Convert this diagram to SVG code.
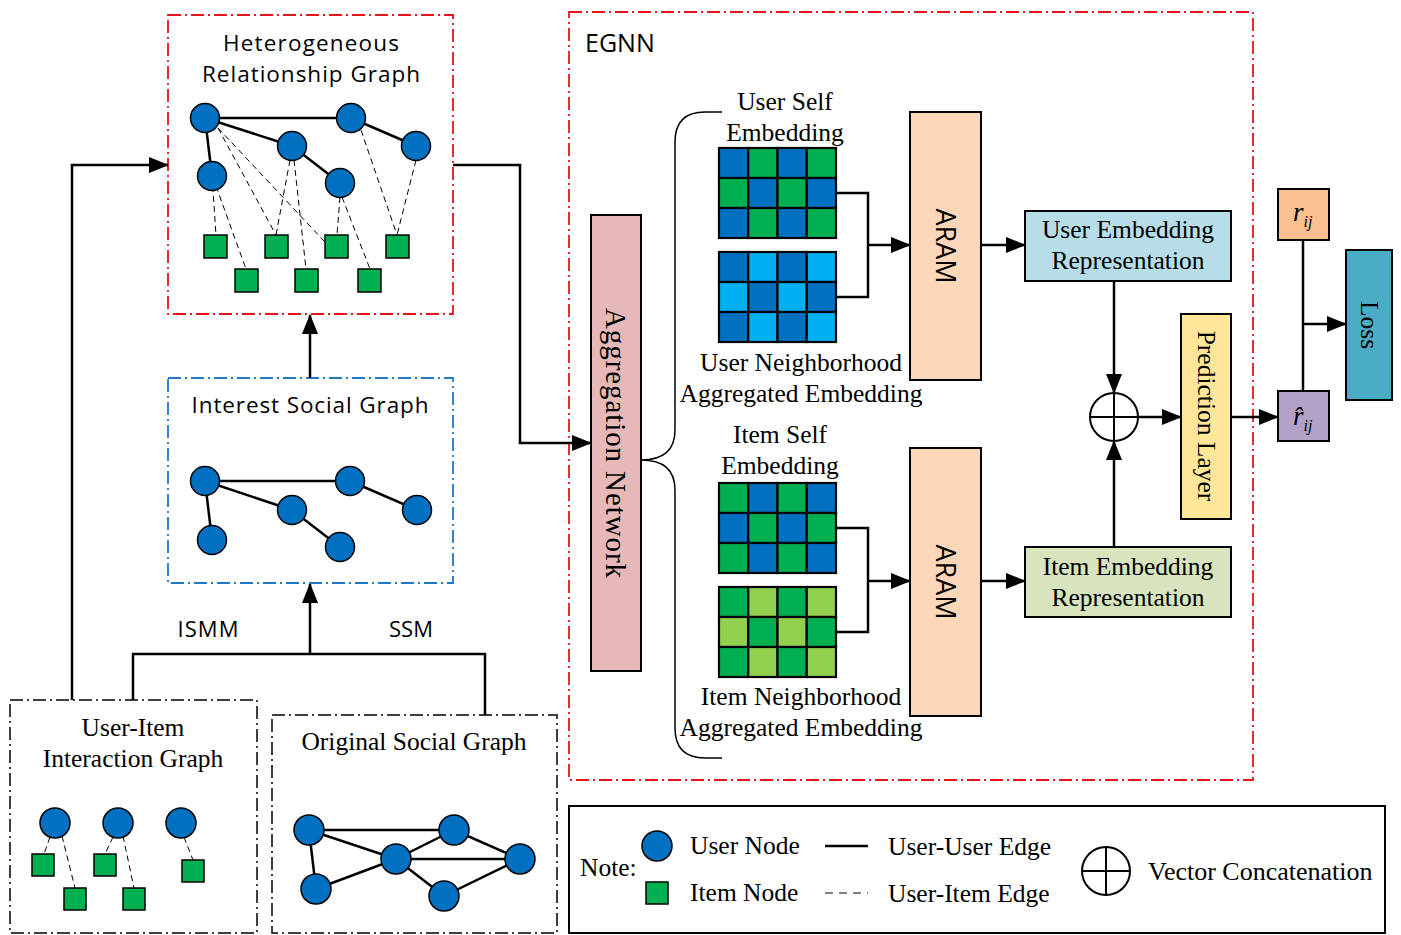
<svg xmlns="http://www.w3.org/2000/svg" width="1401" height="935" viewBox="0 0 1401 935">
<style>
.serif{font-family:"Liberation Serif","Times New Roman",serif;fill:#000}
.sans{font-family:"Open Sans","Liberation Sans",sans-serif;fill:#000}
.un{fill:#0070c0;stroke:#000;stroke-width:1.5}
.in{fill:#00b050;stroke:#000;stroke-width:1.5}
.ue{stroke:#000;stroke-width:2.5;fill:none}
.ie{stroke:#000;stroke-width:1;stroke-dasharray:6 4;fill:none}
.conn{stroke:#000;stroke-width:2.5;fill:none}
.red{fill:none;stroke:#e8141b;stroke-width:1.8;stroke-dasharray:13 4 2 4}
.blue{fill:none;stroke:#1f78c8;stroke-width:1.8;stroke-dasharray:13 4 2 4}
.blk{fill:none;stroke:#000;stroke-width:1.5;stroke-dasharray:13 4 2 4}
.box{stroke:#000;stroke-width:2}
.cell{stroke:#000;stroke-width:2.2}
</style>
<defs>
<marker id="ah" markerUnits="userSpaceOnUse" markerWidth="20" markerHeight="16" refX="19" refY="8" orient="auto">
<path d="M0,0 L20,8 L0,16 Z" fill="#000"/>
</marker>
</defs>

<!-- Heterogeneous Relationship Graph -->
<g id="het-graph">
<rect class="red" x="168" y="15" width="285" height="299"/>
<text class="sans" x="311" y="51" font-size="22.5" text-anchor="middle" textLength="176">Heterogeneous</text>
<text class="sans" x="311" y="82" font-size="22.5" text-anchor="middle" textLength="218">Relationship Graph</text>
<g class="ie">
<line x1="212" y1="176" x2="216" y2="235"/>
<line x1="216" y1="186" x2="246" y2="269"/>
<line x1="218" y1="128" x2="276" y2="235"/>
<line x1="218" y1="128" x2="325" y2="242"/>
<line x1="290" y1="160" x2="276" y2="235"/>
<line x1="294" y1="160" x2="306" y2="269"/>
<line x1="340" y1="197" x2="337" y2="235"/>
<line x1="342" y1="197" x2="370" y2="269"/>
<line x1="361" y1="130" x2="397" y2="235"/>
<line x1="416" y1="160" x2="397" y2="235"/>
</g>
<g class="ue">
<line x1="205" y1="118" x2="351" y2="118"/>
<line x1="205" y1="118" x2="292" y2="146"/>
<line x1="205" y1="118" x2="212" y2="176"/>
<line x1="292" y1="146" x2="340" y2="183"/>
<line x1="351" y1="118" x2="416" y2="146"/>
</g>
<circle class="un" cx="205" cy="118" r="14.5"/>
<circle class="un" cx="351" cy="118" r="14.5"/>
<circle class="un" cx="292" cy="146" r="14.5"/>
<circle class="un" cx="416" cy="146" r="14.5"/>
<circle class="un" cx="212" cy="176" r="14.5"/>
<circle class="un" cx="340" cy="183" r="14.5"/>
<rect class="in" x="204" y="235" width="23" height="23"/>
<rect class="in" x="265" y="235" width="23" height="23"/>
<rect class="in" x="325" y="235" width="23" height="23"/>
<rect class="in" x="386" y="235" width="23" height="23"/>
<rect class="in" x="235" y="269" width="23" height="23"/>
<rect class="in" x="295" y="269" width="23" height="23"/>
<rect class="in" x="358" y="269" width="23" height="23"/>
</g>

<!-- Interest Social Graph -->
<g id="interest-graph">
<rect class="blue" x="168" y="378" width="285" height="205"/>
<text class="sans" x="310" y="413" font-size="22.5" text-anchor="middle" textLength="237">Interest Social Graph</text>
<g class="ue">
<line x1="205" y1="481" x2="350" y2="481"/>
<line x1="205" y1="481" x2="292" y2="510"/>
<line x1="205" y1="481" x2="212" y2="540"/>
<line x1="292" y1="510" x2="340" y2="547"/>
<line x1="350" y1="481" x2="417" y2="510"/>
</g>
<circle class="un" cx="205" cy="481" r="14.5"/>
<circle class="un" cx="350" cy="481" r="14.5"/>
<circle class="un" cx="292" cy="510" r="14.5"/>
<circle class="un" cx="417" cy="510" r="14.5"/>
<circle class="un" cx="212" cy="540" r="14.5"/>
<circle class="un" cx="340" cy="547" r="14.5"/>
</g>

<!-- User-Item Interaction Graph -->
<g id="ui-graph">
<rect class="blk" x="10" y="700" width="247" height="233"/>
<text class="serif" x="133" y="736" font-size="25.5" text-anchor="middle">User-Item</text>
<text class="serif" x="133" y="767" font-size="25.5" text-anchor="middle">Interaction Graph</text>
<g class="ie">
<line x1="50" y1="837" x2="44" y2="854"/>
<line x1="62" y1="836" x2="75" y2="888"/>
<line x1="113" y1="837" x2="105" y2="854"/>
<line x1="123" y1="836" x2="134" y2="888"/>
<line x1="184" y1="837" x2="193" y2="860"/>
</g>
<circle class="un" cx="55" cy="823" r="15"/>
<circle class="un" cx="118" cy="823" r="15"/>
<circle class="un" cx="181" cy="823" r="15"/>
<rect class="in" x="32" y="854" width="22" height="22"/>
<rect class="in" x="94" y="854" width="22" height="22"/>
<rect class="in" x="64" y="888" width="22" height="22"/>
<rect class="in" x="123" y="888" width="22" height="22"/>
<rect class="in" x="182" y="860" width="22" height="22"/>
</g>

<!-- Original Social Graph -->
<g id="orig-social-graph">
<rect class="blk" x="272" y="715" width="285" height="218"/>
<text class="serif" x="414" y="750" font-size="25.5" text-anchor="middle">Original Social Graph</text>
<g class="ue">
<line x1="309" y1="830" x2="454" y2="830"/>
<line x1="309" y1="830" x2="396" y2="859"/>
<line x1="309" y1="830" x2="316" y2="889"/>
<line x1="396" y1="859" x2="454" y2="830"/>
<line x1="396" y1="859" x2="520" y2="859"/>
<line x1="396" y1="859" x2="316" y2="889"/>
<line x1="396" y1="859" x2="444" y2="896"/>
<line x1="454" y1="830" x2="520" y2="859"/>
<line x1="444" y1="896" x2="520" y2="859"/>
</g>
<circle class="un" cx="309" cy="830" r="15"/>
<circle class="un" cx="454" cy="830" r="15"/>
<circle class="un" cx="396" cy="859" r="15"/>
<circle class="un" cx="520" cy="859" r="15"/>
<circle class="un" cx="316" cy="889" r="15"/>
<circle class="un" cx="444" cy="896" r="15"/>
</g>

<!-- EGNN container -->
<g id="egnn">
<rect class="red" x="569" y="12" width="684" height="768"/>
<text class="sans" x="585" y="52" font-size="25">EGNN</text>
</g>

<g id="aggregation-network">
<rect class="box" x="591" y="215" width="50" height="456" fill="#e6b9b8"/>
<text class="serif" font-size="29" text-anchor="middle" transform="translate(606,443) rotate(90)" textLength="270">Aggregation Network</text>
</g>

<g id="brace">
<path d="M722,112 H705 Q675,112 675,142 V430 Q675,460 641,460 Q675,460 675,490 V728 Q675,758 705,758 H722" fill="none" stroke="#000" stroke-width="1.5"/>
</g>

<g id="user-self-emb">
<text class="serif" x="785" y="110" font-size="25.5" text-anchor="middle">User Self</text>
<text class="serif" x="785" y="141" font-size="25.5" text-anchor="middle">Embedding</text>
<g class="cell">
<rect x="719" y="148" width="29.25" height="30" fill="#0070c0"/>
<rect x="748.25" y="148" width="29.25" height="30" fill="#00b050"/>
<rect x="777.5" y="148" width="29.25" height="30" fill="#0070c0"/>
<rect x="806.75" y="148" width="29.25" height="30" fill="#00b050"/>
<rect x="719" y="178" width="29.25" height="30" fill="#00b050"/>
<rect x="748.25" y="178" width="29.25" height="30" fill="#0070c0"/>
<rect x="777.5" y="178" width="29.25" height="30" fill="#00b050"/>
<rect x="806.75" y="178" width="29.25" height="30" fill="#0070c0"/>
<rect x="719" y="208" width="29.25" height="30" fill="#0070c0"/>
<rect x="748.25" y="208" width="29.25" height="30" fill="#00b050"/>
<rect x="777.5" y="208" width="29.25" height="30" fill="#0070c0"/>
<rect x="806.75" y="208" width="29.25" height="30" fill="#00b050"/>
</g>
</g>

<g id="user-neigh-emb">
<g class="cell">
<rect x="719" y="252" width="29.25" height="30" fill="#0070c0"/>
<rect x="748.25" y="252" width="29.25" height="30" fill="#00b0f0"/>
<rect x="777.5" y="252" width="29.25" height="30" fill="#0070c0"/>
<rect x="806.75" y="252" width="29.25" height="30" fill="#00b0f0"/>
<rect x="719" y="282" width="29.25" height="30" fill="#00b0f0"/>
<rect x="748.25" y="282" width="29.25" height="30" fill="#0070c0"/>
<rect x="777.5" y="282" width="29.25" height="30" fill="#00b0f0"/>
<rect x="806.75" y="282" width="29.25" height="30" fill="#0070c0"/>
<rect x="719" y="312" width="29.25" height="30" fill="#0070c0"/>
<rect x="748.25" y="312" width="29.25" height="30" fill="#00b0f0"/>
<rect x="777.5" y="312" width="29.25" height="30" fill="#0070c0"/>
<rect x="806.75" y="312" width="29.25" height="30" fill="#00b0f0"/>
</g>
<text class="serif" x="801" y="371" font-size="25.5" text-anchor="middle">User Neighborhood</text>
<text class="serif" x="801" y="402" font-size="25.5" text-anchor="middle">Aggregated Embedding</text>
</g>

<g id="item-self-emb">
<text class="serif" x="780" y="443" font-size="25.5" text-anchor="middle">Item Self</text>
<text class="serif" x="780" y="474" font-size="25.5" text-anchor="middle">Embedding</text>
<g class="cell">
<rect x="719" y="483" width="29.25" height="30" fill="#00b050"/>
<rect x="748.25" y="483" width="29.25" height="30" fill="#0070c0"/>
<rect x="777.5" y="483" width="29.25" height="30" fill="#00b050"/>
<rect x="806.75" y="483" width="29.25" height="30" fill="#0070c0"/>
<rect x="719" y="513" width="29.25" height="30" fill="#0070c0"/>
<rect x="748.25" y="513" width="29.25" height="30" fill="#00b050"/>
<rect x="777.5" y="513" width="29.25" height="30" fill="#0070c0"/>
<rect x="806.75" y="513" width="29.25" height="30" fill="#00b050"/>
<rect x="719" y="543" width="29.25" height="30" fill="#00b050"/>
<rect x="748.25" y="543" width="29.25" height="30" fill="#0070c0"/>
<rect x="777.5" y="543" width="29.25" height="30" fill="#00b050"/>
<rect x="806.75" y="543" width="29.25" height="30" fill="#0070c0"/>
</g>
</g>

<g id="item-neigh-emb">
<g class="cell">
<rect x="719" y="587" width="29.25" height="30" fill="#00b050"/>
<rect x="748.25" y="587" width="29.25" height="30" fill="#92d050"/>
<rect x="777.5" y="587" width="29.25" height="30" fill="#00b050"/>
<rect x="806.75" y="587" width="29.25" height="30" fill="#92d050"/>
<rect x="719" y="617" width="29.25" height="30" fill="#92d050"/>
<rect x="748.25" y="617" width="29.25" height="30" fill="#00b050"/>
<rect x="777.5" y="617" width="29.25" height="30" fill="#92d050"/>
<rect x="806.75" y="617" width="29.25" height="30" fill="#00b050"/>
<rect x="719" y="647" width="29.25" height="30" fill="#00b050"/>
<rect x="748.25" y="647" width="29.25" height="30" fill="#92d050"/>
<rect x="777.5" y="647" width="29.25" height="30" fill="#00b050"/>
<rect x="806.75" y="647" width="29.25" height="30" fill="#92d050"/>
</g>
<text class="serif" x="801" y="705" font-size="25.5" text-anchor="middle">Item Neighborhood</text>
<text class="serif" x="801" y="736" font-size="25.5" text-anchor="middle">Aggregated Embedding</text>
</g>

<g id="aram-user">
<rect class="box" x="910" y="112" width="71" height="268" fill="#fbd6b8"/>
<text class="sans" font-size="27" text-anchor="middle" transform="translate(936,246) rotate(90)">ARAM</text>
</g>
<g id="aram-item">
<rect class="box" x="910" y="448" width="71" height="268" fill="#fbd6b8"/>
<text class="sans" font-size="27" text-anchor="middle" transform="translate(936,582) rotate(90)">ARAM</text>
</g>

<g id="user-emb-rep">
<rect class="box" x="1025" y="211" width="206" height="70" fill="#b7dee8"/>
<text class="serif" x="1128" y="238" font-size="25.5" text-anchor="middle">User Embedding</text>
<text class="serif" x="1128" y="269" font-size="25.5" text-anchor="middle">Representation</text>
</g>
<g id="item-emb-rep">
<rect class="box" x="1025" y="547" width="206" height="70" fill="#d7e4bd"/>
<text class="serif" x="1128" y="575" font-size="25.5" text-anchor="middle">Item Embedding</text>
<text class="serif" x="1128" y="606" font-size="25.5" text-anchor="middle">Representation</text>
</g>

<g id="concat">
<circle cx="1114" cy="417" r="24" fill="#fff" stroke="#000" stroke-width="2"/>
<line x1="1090" y1="417" x2="1138" y2="417" stroke="#000" stroke-width="2"/>
<line x1="1114" y1="393" x2="1114" y2="441" stroke="#000" stroke-width="2"/>
</g>

<g id="prediction-layer">
<rect class="box" x="1181" y="314" width="50" height="205" fill="#ffe699"/>
<text class="serif" font-size="25.5" text-anchor="middle" transform="translate(1198,416) rotate(90)">Prediction Layer</text>
</g>

<g id="r-ij">
<rect class="box" x="1278" y="189" width="51" height="51" fill="#fac090"/>
<text class="serif" x="1293" y="221" font-size="27" font-style="italic">r<tspan font-size="16" dy="6">ij</tspan></text>
</g>
<g id="r-hat-ij">
<rect class="box" x="1278" y="391" width="51" height="50" fill="#b3a2c7"/>
<text class="serif" x="1293" y="425" font-size="27" font-style="italic">r&#x302;<tspan font-size="16" dy="6">ij</tspan></text>
</g>

<g id="loss">
<rect class="box" x="1346" y="250" width="46" height="150" fill="#4bacc6"/>
<text class="serif" font-size="25.5" text-anchor="middle" transform="translate(1361,325) rotate(90)">Loss</text>
</g>

<!-- Connectors -->
<g id="connectors">
<polyline class="conn" points="72,700 72,165 168,165" marker-end="url(#ah)"/>
<polyline class="conn" points="453,165 520,165 520,443 591,443" marker-end="url(#ah)"/>
<line class="conn" x1="310" y1="378" x2="310" y2="315" marker-end="url(#ah)"/>
<polyline class="conn" points="133,700 133,654 485,654 485,715"/>
<line class="conn" x1="310" y1="654" x2="310" y2="584" marker-end="url(#ah)"/>
<text class="sans" x="208" y="637" font-size="22" text-anchor="middle" textLength="61">ISMM</text>
<text class="sans" x="411" y="637" font-size="22" text-anchor="middle" textLength="44">SSM</text>
<polyline class="conn" points="836,193 868,193 868,297 836,297"/>
<line class="conn" x1="868" y1="245" x2="910" y2="245" marker-end="url(#ah)"/>
<polyline class="conn" points="836,528 868,528 868,632 836,632"/>
<line class="conn" x1="868" y1="581" x2="910" y2="581" marker-end="url(#ah)"/>
<line class="conn" x1="981" y1="245" x2="1025" y2="245" marker-end="url(#ah)"/>
<line class="conn" x1="981" y1="581" x2="1025" y2="581" marker-end="url(#ah)"/>
<line class="conn" x1="1114" y1="281" x2="1114" y2="393" marker-end="url(#ah)"/>
<line class="conn" x1="1114" y1="547" x2="1114" y2="441" marker-end="url(#ah)"/>
<line class="conn" x1="1138" y1="417" x2="1181" y2="417" marker-end="url(#ah)"/>
<line class="conn" x1="1231" y1="417" x2="1278" y2="417" marker-end="url(#ah)"/>
<line class="conn" x1="1303" y1="240" x2="1303" y2="391"/>
<line class="conn" x1="1303" y1="324" x2="1346" y2="324" marker-end="url(#ah)"/>
</g>

<!-- Legend -->
<g id="legend">
<rect x="569" y="806" width="816" height="127" fill="#fff" stroke="#000" stroke-width="2"/>
<text class="serif" x="580" y="876" font-size="25.5">Note:</text>
<circle class="un" cx="657" cy="846" r="15"/>
<rect class="in" x="646" y="882" width="22" height="22"/>
<text class="serif" x="690" y="854" font-size="25.5">User Node</text>
<text class="serif" x="690" y="901" font-size="25.5">Item Node</text>
<line x1="825" y1="846" x2="868" y2="846" stroke="#000" stroke-width="2.5"/>
<line x1="825" y1="893" x2="868" y2="893" stroke="#000" stroke-width="1" stroke-dasharray="8 6"/>
<text class="serif" x="888" y="855" font-size="25.5">User-User Edge</text>
<text class="serif" x="888" y="902" font-size="25.5">User-Item Edge</text>
<circle cx="1106" cy="871" r="24" fill="#fff" stroke="#000" stroke-width="2"/>
<line x1="1082" y1="871" x2="1130" y2="871" stroke="#000" stroke-width="2"/>
<line x1="1106" y1="847" x2="1106" y2="895" stroke="#000" stroke-width="2"/>
<text class="serif" x="1148" y="880" font-size="26">Vector Concatenation</text>
</g>
</svg>
